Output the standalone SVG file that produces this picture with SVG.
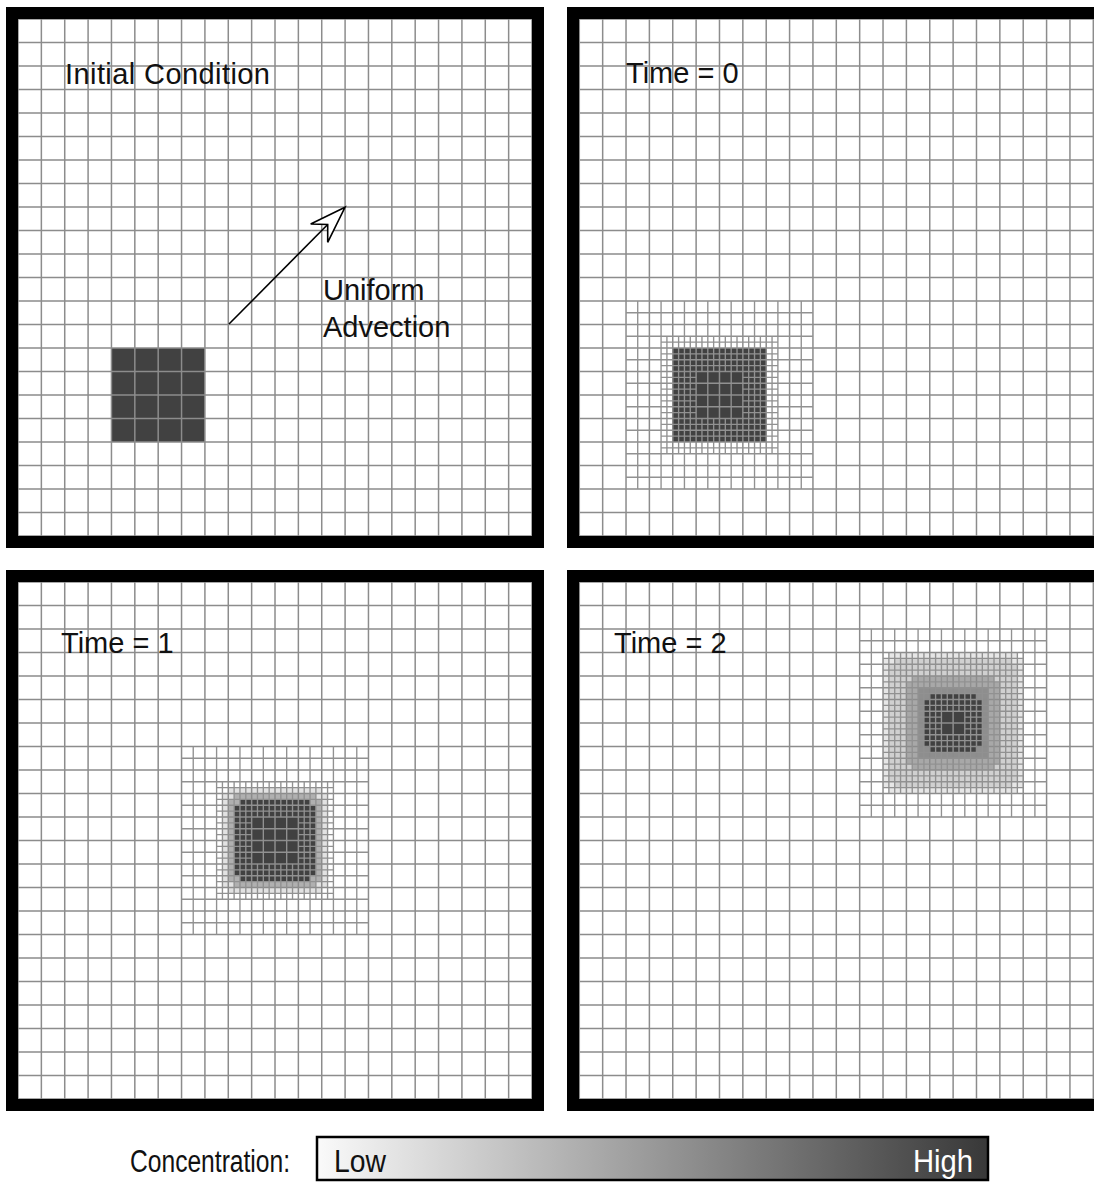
<svg xmlns="http://www.w3.org/2000/svg" xmlns:xlink="http://www.w3.org/1999/xlink" width="1094" height="1182" viewBox="0 0 1094 1182">
<style>
.grid{fill:none;stroke:#8c8c8c;stroke-width:0.064}
.fine{fill:none;stroke:#919191;stroke-width:0.058}
.frame{fill:none;stroke:#000;stroke-width:12;stroke-linejoin:miter}
.lbl{font-family:"Liberation Sans",Arial,sans-serif;font-size:29px;fill:#111}
.leg{font-family:"Liberation Sans",Arial,sans-serif;font-size:31px;fill:#111}
.dark{fill:#414141}
</style>
<defs>
<path id="coarse" d="M0 0V22M1 0V22M2 0V22M3 0V22M4 0V22M5 0V22M6 0V22M7 0V22M8 0V22M9 0V22M10 0V22M11 0V22M12 0V22M13 0V22M14 0V22M15 0V22M16 0V22M17 0V22M18 0V22M19 0V22M20 0V22M21 0V22M22 0V22M0 0H22M0 1H22M0 2H22M0 3H22M0 4H22M0 5H22M0 6H22M0 7H22M0 8H22M0 9H22M0 10H22M0 11H22M0 12H22M0 13H22M0 14H22M0 15H22M0 16H22M0 17H22M0 18H22M0 19H22M0 20H22M0 21H22M0 22H22"/>
<path id="half" d="M.5 0V8M1.5 0V8M2.5 0V8M3.5 0V8M4.5 0V8M5.5 0V8M6.5 0V8M7.5 0V8M0 .5H8M0 1.5H8M0 2.5H8M0 3.5H8M0 4.5H8M0 5.5H8M0 6.5H8M0 7.5H8"/>
<path id="quarterA" d="M1.75 1.5V6.5M2.25 1.5V6.5M2.75 1.5V6.5M5.25 1.5V6.5M5.75 1.5V6.5M6.25 1.5V6.5M3.25 1.5V3M3.25 5V6.5M3.75 1.5V3M3.75 5V6.5M4.25 1.5V3M4.25 5V6.5M4.75 1.5V3M4.75 5V6.5M1.5 1.75H6.5M1.5 2.25H6.5M1.5 2.75H6.5M1.5 5.25H6.5M1.5 5.75H6.5M1.5 6.25H6.5M1.5 3.25H3M5 3.25H6.5M1.5 3.75H3M5 3.75H6.5M1.5 4.25H3M5 4.25H6.5M1.5 4.75H3M5 4.75H6.5"/>
<path id="quarterB" d="M1.25 1V7M1.75 1V7M2.25 1V7M2.75 1V7M3.25 1V7M4.75 1V7M5.25 1V7M5.75 1V7M6.25 1V7M6.75 1V7M3.75 1V3.5M3.75 4.5V7M4.25 1V3.5M4.25 4.5V7M1 1.25H7M1 1.75H7M1 2.25H7M1 2.75H7M1 3.25H7M1 4.75H7M1 5.25H7M1 5.75H7M1 6.25H7M1 6.75H7M1 3.75H3.5M4.5 3.75H7M1 4.25H3.5M4.5 4.25H7"/>
<linearGradient id="conc" x1="0" y1="0" x2="1" y2="0">
<stop offset="0" stop-color="#fafafa"/>
<stop offset="1" stop-color="#383838"/>
</linearGradient>
</defs>
<rect width="1094" height="1182" fill="#fff"/>

<g id="panel-initial">
<g transform="translate(18,19) scale(23.364,23.5)">
<rect class="dark" x="4" y="14" width="4" height="4"/>
<g class="grid"><use xlink:href="#coarse"/></g>
</g>
<rect class="frame" x="12" y="13" width="526" height="529"/>
<text class="lbl" x="65" y="84" textLength="205">Initial Condition</text>
<text class="lbl" x="323" y="300">Uniform</text>
<text class="lbl" x="323" y="337">Advection</text>
</g>

<g id="connectors">
<line x1="229" y1="324" x2="327.7" y2="224.5" stroke="#000" stroke-width="1.6"/>
<polygon points="345,207.3 310.7,224 327.7,224.5 327.7,242.3" fill="#fff" stroke="#000" stroke-width="1.6" stroke-linejoin="miter"/>
</g>

<g id="panel-t0">
<g transform="translate(579.3,19) scale(23.364,23.5)">
<rect class="dark" x="4" y="14" width="4" height="4"/>
<g class="grid"><use xlink:href="#coarse"/></g>
<g class="fine"><use xlink:href="#half" x="2" y="12"/><use xlink:href="#quarterA" x="2" y="12"/></g>
</g>
<path class="frame" d="M1110 13H573V542H1110"/>
<text class="lbl" x="626" y="83">Time = 0</text>
</g>

<g id="panel-t1">
<g transform="translate(18,582) scale(23.364,23.5)">
<path fill="#e2e2e2" d="M9 8.75H13V9H13.25V13H13V13.25H9V13H8.75V9H9Z"/>
<path fill="#b0b0b0" d="M9.25 9H12.75V9.25H13V12.75H12.75V13H9.25V12.75H9V9.25H9.25Z"/>
<path class="dark" d="M9.5 9.25H12.5V9.5H12.75V12.5H12.5V12.75H9.5V12.5H9.25V9.5H9.5Z"/>
<g class="grid"><use xlink:href="#coarse"/></g>
<g class="fine"><use xlink:href="#half" x="7" y="7"/><use xlink:href="#quarterA" x="7" y="7"/></g>
</g>
<rect class="frame" x="12" y="576" width="526" height="529"/>
<text class="lbl" x="61" y="653">Time = 1</text>
</g>

<g id="panel-t2">
<g transform="translate(579.3,582) scale(23.364,23.5)">
<path fill="#e6e6e6" d="M13.25 3H18.75V3.25H19V8.75H18.75V9H13.25V8.75H13V3.25H13.25Z"/>
<path fill="#d0d0d0" d="M13.5 3.25H18.5V3.5H18.75V8.5H18.5V8.75H13.5V8.5H13.25V3.5H13.5Z"/>
<path fill="#a8a8a8" d="M14.25 4H17.75V4.25H18V7.75H17.75V8H14.25V7.75H14V4.25H14.25Z"/>
<path fill="#8e8e8e" d="M14.5 4.5H17.5V7.5H14.5Z"/>
<path class="dark" d="M15 4.75H17V5H17.25V7H17V7.25H15V7H14.75V5H15Z"/>
<g class="grid"><use xlink:href="#coarse"/></g>
<g class="fine"><use xlink:href="#half" x="12" y="2"/><use xlink:href="#quarterB" x="12" y="2"/></g>
</g>
<path class="frame" d="M1110 576H573V1105H1110"/>
<text class="lbl" x="614" y="653">Time = 2</text>
</g>

<g id="legend">
<text class="leg" x="130" y="1172" textLength="160" lengthAdjust="spacingAndGlyphs">Concentration:</text>
<rect x="317" y="1137" width="671" height="43" fill="url(#conc)" stroke="#000" stroke-width="2.5"/>
<text class="leg" x="334" y="1172" textLength="52" lengthAdjust="spacingAndGlyphs">Low</text>
<text class="leg" x="973" y="1172" text-anchor="end" textLength="60" lengthAdjust="spacingAndGlyphs" style="fill:#fff">High</text>
</g>
</svg>
